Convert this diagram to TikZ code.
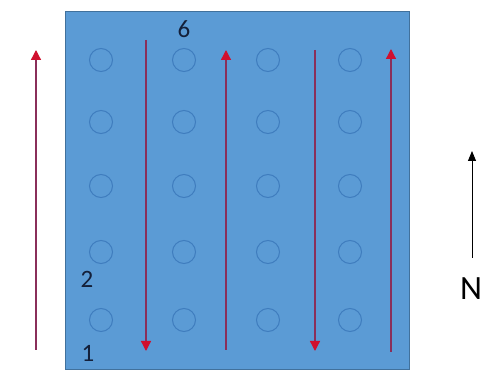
\documentclass[tikz,border=0pt]{standalone}
\usepackage{fontspec}
\setmainfont{Carlito}
\usetikzlibrary{arrows.meta}
\definecolor{fieldblue}{HTML}{5B9BD5}
\definecolor{fieldedge}{HTML}{41719C}
\definecolor{holeedge}{HTML}{3F7DBE}
\definecolor{flowred}{HTML}{D0102E}
\definecolor{flowline}{HTML}{8A2F5A}
\definecolor{labelink}{HTML}{14203A}
\begin{document}
\begin{tikzpicture}[x=1pt,y=-1pt,
  hole/.style={circle,draw=holeedge,line width=1pt,minimum size=23pt,inner sep=0pt},
  flow/.style={draw=flowline,line width=1.3pt,-{Triangle[width=10pt,length=10pt,color=flowred]}},
  digit/.style={font=\fontsize{25}{25}\selectfont,text=labelink,inner sep=0pt},
  north/.style={draw=black,line width=1pt,-{Triangle[width=8pt,length=10pt]}}]
\useasboundingbox (0,0) rectangle (483,374);
\fill[white] (0,0) rectangle (483,374);
\node[draw=fieldedge,fill=fieldblue,line width=1pt,minimum width=344pt,minimum height=358pt,inner sep=0pt,anchor=north west] (field) at (65,11) {};
\foreach \cx [count=\i] in {101,184,268,350}{
  \foreach \cy [count=\j] in {60,122,186,252,320}{
    \node[hole] (h\i\j) at (\cx,\cy) {};
  }
}
\coordinate (a1s) at (36,350); \coordinate (a1e) at (36,50);
\coordinate (a2s) at (146,40); \coordinate (a2e) at (146,351);
\coordinate (a3s) at (226,350); \coordinate (a3e) at (226,50);
\coordinate (a4s) at (315,50); \coordinate (a4e) at (315,351);
\coordinate (a5s) at (391,352); \coordinate (a5e) at (391,49);
\draw[flow] (a1s) -- (a1e);
\draw[flow] (a2s) -- (a2e);
\draw[flow] (a3s) -- (a3e);
\draw[flow] (a4s) -- (a4e);
\draw[flow] (a5s) -- (a5e);
\node[digit] (l6) at (184,29) {6};
\node[digit] (l2) at (87,279) {2};
\node[digit] (l1) at (88,353) {1};
\coordinate (ns) at (472,258); \coordinate (ne) at (472,151);
\draw[north] (ns) -- (ne);
\node[font=\fontsize{34}{34}\selectfont,inner sep=0pt] (nlab) at (471,289) {N};
\end{tikzpicture}
\end{document}
